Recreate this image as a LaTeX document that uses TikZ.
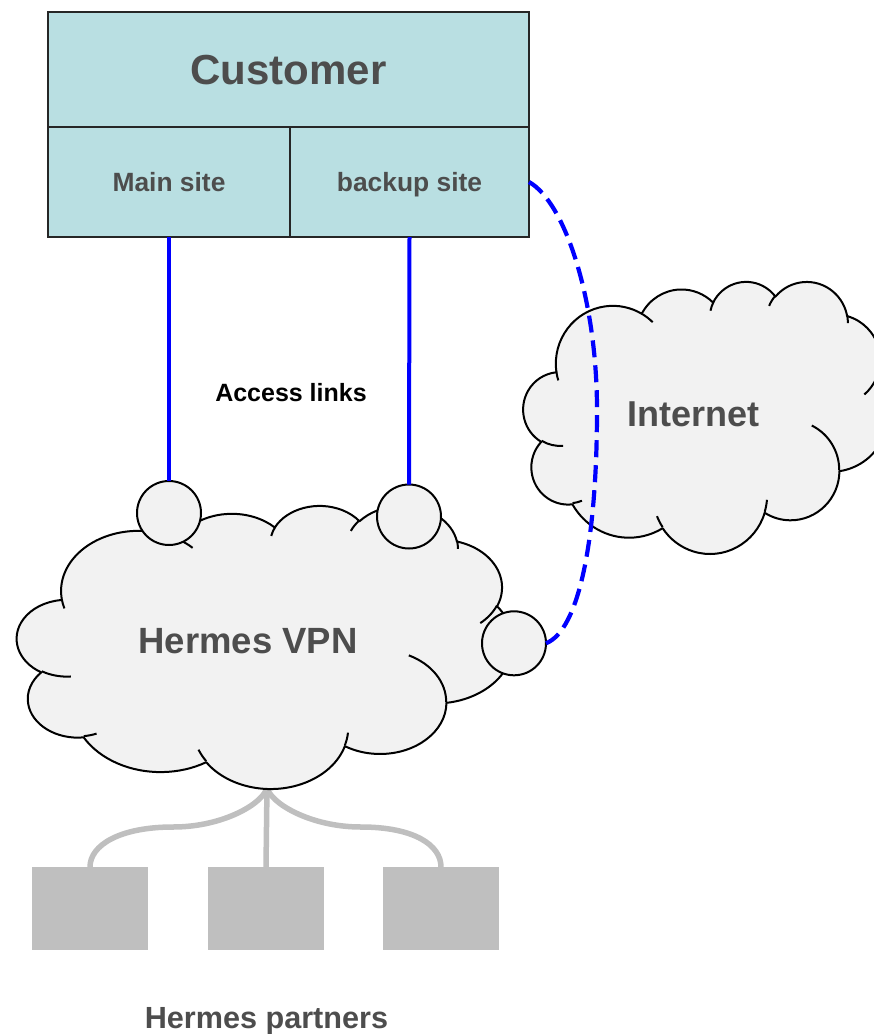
\documentclass[tikz,border=0pt]{standalone}
\usepackage{fontspec}
\setmainfont{Liberation Sans}

\definecolor{boxfill}{HTML}{B9DFE2}
\definecolor{cloudfill}{HTML}{F2F2F2}
\definecolor{textgray}{HTML}{4D4D4D}
\definecolor{partgray}{HTML}{BFBFBF}
\definecolor{linkblue}{HTML}{0000FF}

% One elliptical arc of the cloud outline, in a 432 x 432 frame.
% #1,#2 radii, #3 start angle, #4 sweep (visual angles, turned into
% parametric angles by pa()).
\newcommand\cloudarc[4]{arc[x radius=#1, y radius=#2, start angle={pa(#3,#1,#2)}, end angle={pa(#3+#4,#1,#2)}]}

% closed outline of the cloud
\newcommand\cloudoutline{%
  (39.00,143.70)
  \cloudarc{67.53}{91.90}{-190.48748}{123.78053}
  \cloudarc{53.33}{72.67}{-144.10238}{89.94523}
  \cloudarc{43.65}{59.45}{-145.80792}{99.72302}
  \cloudarc{48.57}{65.95}{-130.98607}{117.24173}
  \cloudarc{53.33}{72.73}{-78.70888}{109.02692}
  \cloudarc{67.75}{92.20}{-46.26725}{130.26900}
  \cloudarc{57.85}{78.67}{0.62502}{114.03333}
  \cloudarc{67.52}{92.15}{22.45160}{115.17255}
  \cloudarc{77.20}{105.43}{66.24263}{75.71102}
  \cloudarc{43.60}{59.18}{-274.94208}{146.73557}
  \cloudarc{43.45}{59.45}{-246.82850}{152.51885}
  -- cycle}

% short inner arcs where the puffs overlap
\newcommand\cloudstubs{%
  (46.93,261.77)  \cloudarc{43.45}{59.45}{86.74200}{26.42950}
  (69.28,348.99)  \cloudarc{43.60}{59.18}{73.61047}{11.44747}
  (164.78,390.90) \cloudarc{67.52}{92.15}{137.62415}{14.08110}
  (288.27,347.51) \cloudarc{67.52}{92.15}{6.45327}{15.99835}
  (341.29,229.54) \cloudarc{57.85}{78.67}{-70.29235}{70.91737}
  (417.98,153.54) \cloudarc{53.33}{72.73}{30.31803}{27.75150}
  (383.24,54.26)  \cloudarc{48.57}{65.95}{-13.74433}{14.85890}
  (290.78,39.52)  \cloudarc{48.57}{65.95}{-149.18145}{18.19537}
  (221.41,47.20)  \cloudarc{43.65}{59.45}{-163.49427}{17.68635}
  (140.00,51.92)  \cloudarc{67.53}{91.90}{-66.70695}{12.31935}
  (41.27,157.89)  \cloudarc{67.53}{91.90}{157.65435}{11.85817}}

\begin{document}
\begin{tikzpicture}[
  x=1pt, y=-1pt,
  declare function={pa(\x,\y,\z)=atan2(\y*sin(\x),\z*cos(\x))-360*round((atan2(\y*sin(\x),\z*cos(\x))-\x)/360);},
  boxcell/.style={draw=black!85, fill=boxfill, line width=2pt, inner sep=0pt, outer sep=0pt,
    text=textgray, text depth=0pt},
  cloudbody/.style={fill=cloudfill, draw=black, line width=2pt, line join=round},
  cloudstub/.style={draw=black, line width=2pt},
  port/.style={circle, draw=black, fill=cloudfill, line width=2pt, minimum size=64pt, inner sep=0pt, outer sep=0pt},
  partner/.style={fill=partgray, minimum width=116pt, minimum height=83pt, inner sep=0pt, outer sep=0pt},
  partline/.style={draw=partgray, line width=5.5pt},
  accesslink/.style={draw=linkblue, line width=4pt},
  backuplink/.style={draw=linkblue, line width=4.2pt, dash pattern=on 17pt off 8pt},
  biglabel/.style={font=\fontsize{36.5}{42}\selectfont\bfseries, text=textgray, anchor=base, inner sep=0pt},
]
\useasboundingbox (0,0) rectangle (874,1034);
\clip (0,0) rectangle (874,1034);

% customer block
\node[boxcell, minimum width=481pt, minimum height=115pt,
      font=\fontsize{42}{48}\selectfont\bfseries] (customer) at (288.5,69.5) {Customer};
\node[boxcell, minimum width=242pt, minimum height=110pt,
      font=\fontsize{26.4}{30}\selectfont\bfseries] (main) at (169,182) {Main site};
\node[boxcell, minimum width=239pt, minimum height=110pt,
      font=\fontsize{26.4}{30}\selectfont\bfseries] (backup) at (409.5,182) {backup site};

% partner sites, hanging from the foot of the VPN cloud
\node[partner] (p1) at (90,908.5) {};
\node[partner] (p2) at (266,908.5) {};
\node[partner] (p3) at (441,908.5) {};
\coordinate (vpnfoot) at (267,787);
\draw[partline] (vpnfoot) -- (p2.north);
\draw[partline] (vpnfoot) .. controls +(-2,15) and +(52,0) .. ++(-94,40)
  .. controls +(-53,0) and +(0,-22) .. (p1.north);
\draw[partline] (vpnfoot) .. controls +(2,15) and +(-52,0) .. ++(94,40)
  .. controls +(53,0) and +(0,-22) .. (p3.north);

% Hermes VPN cloud
\begin{scope}[shift={(17,505)}, xscale=1.148148, yscale=0.655093]
  \path[cloudbody] \cloudoutline;
  \path[cloudstub] \cloudstubs;
\end{scope}

% access points on the VPN and the links to the customer sites
\node[port] (c1) at (169,513) {};
\node[port] (c2) at (409,516.5) {};
\node[port] (c3) at (514,643.3) {};
\draw[accesslink] (main.south) -- (c1.north);
\draw[accesslink] (backup.south) -- (c2.north);

% Internet cloud
\begin{scope}[shift={(523.4,281)}, xscale=0.844907, yscale=0.629630]
  \path[cloudbody] \cloudoutline;
  \path[cloudstub] \cloudstubs;
\end{scope}

% backup path through the Internet
\draw[backuplink] (backup.east) .. controls +(36,20) and +(0,-110) .. ++(68,228)
  .. controls +(0,130) and +(33,-13) .. (c3.east);

% labels
\node[biglabel] (vpnlabel) at (248,653.3) {Hermes VPN};
\node[biglabel, font=\fontsize{36}{42}\selectfont\bfseries] (netlabel) at (693.5,426.7) {Internet};
\node[anchor=base, inner sep=0pt, font=\fontsize{25}{30}\selectfont\bfseries] (access) at (291,401.7) {Access links};
\node[biglabel, font=\fontsize{30.6}{36}\selectfont\bfseries] (partners) at (266.5,1028.3) {Hermes partners};
\end{tikzpicture}
\end{document}
